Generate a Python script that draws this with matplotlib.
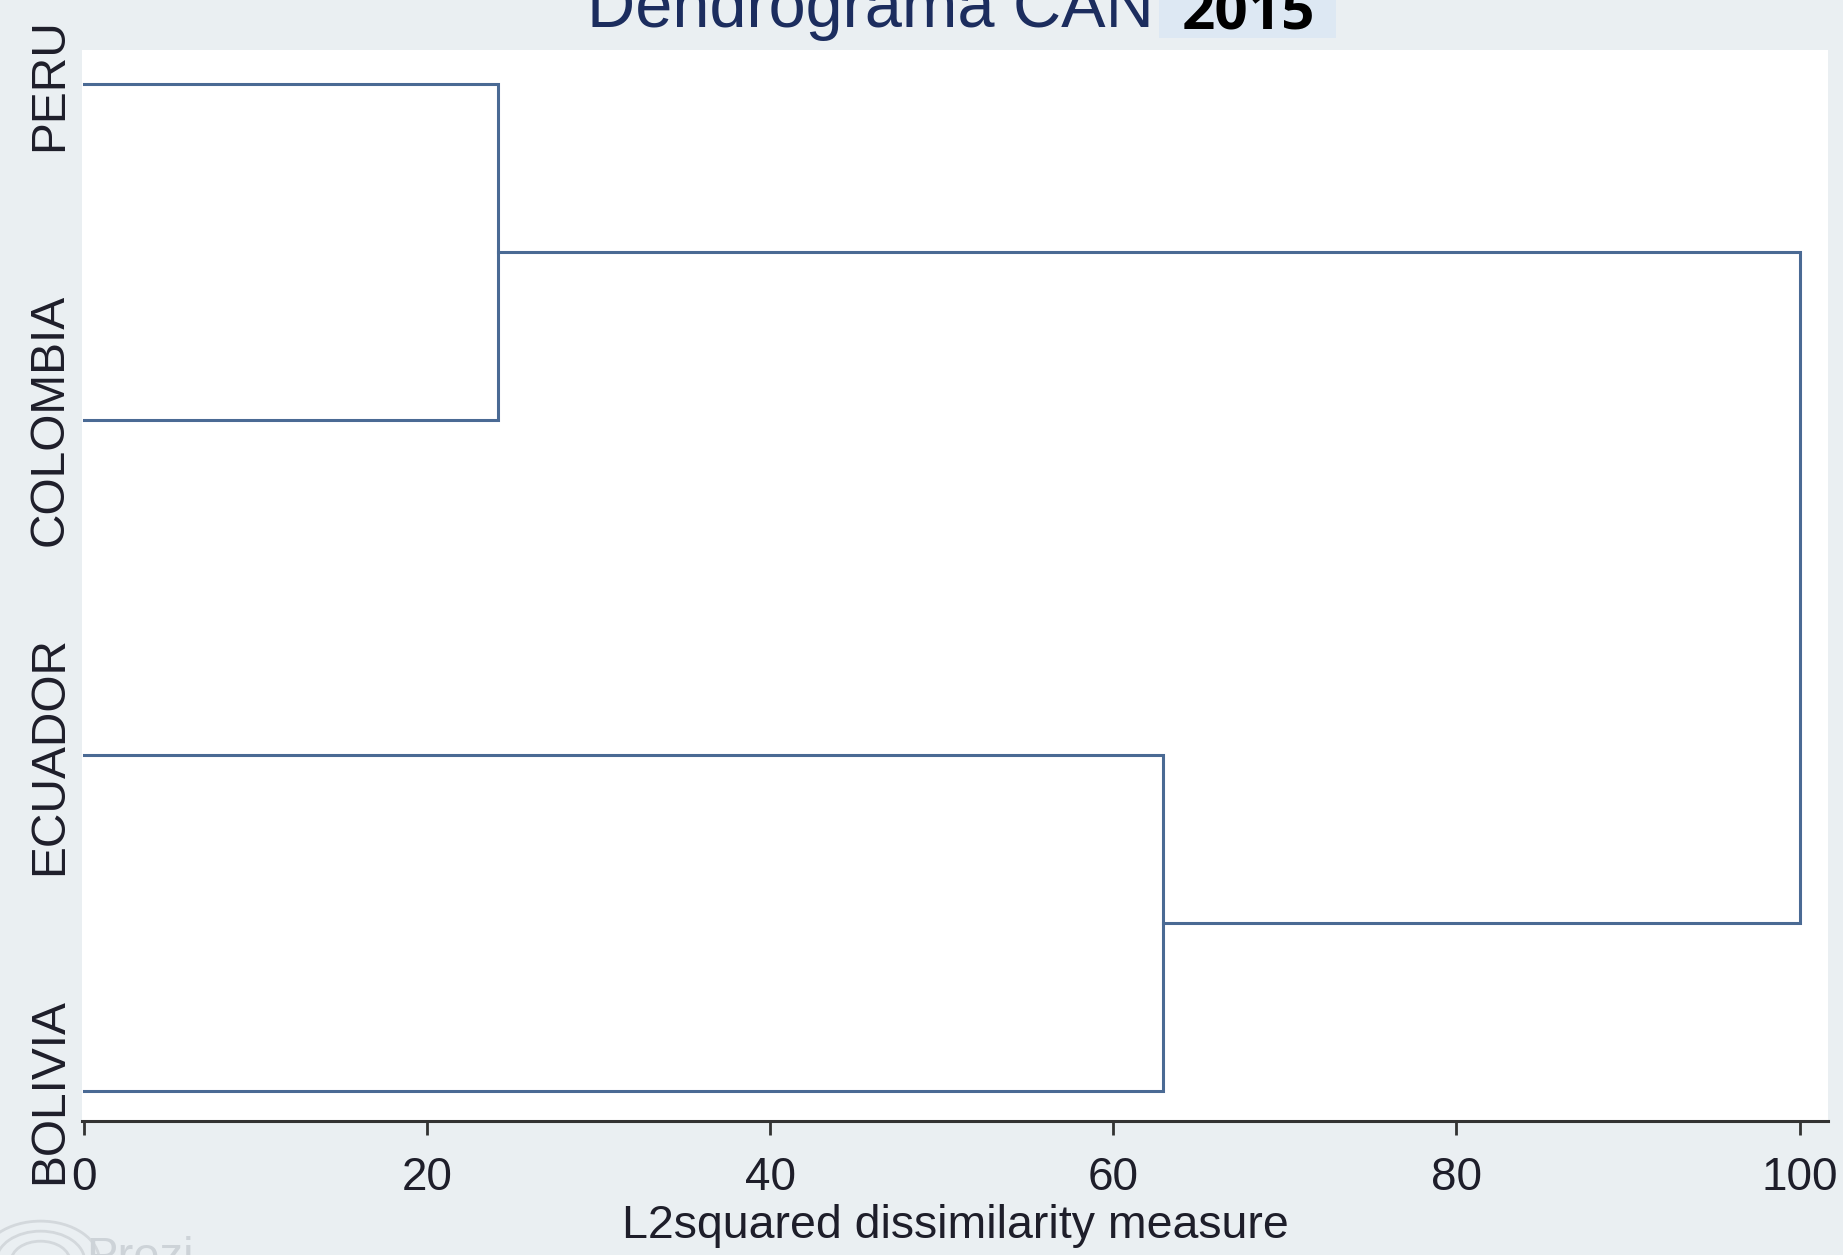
import matplotlib
matplotlib.use("Agg")
import matplotlib.pyplot as plt
from matplotlib.patches import Rectangle, Circle

plt.rcParams['font.family'] = ['Liberation Sans', 'DejaVu Sans']

# leaves from bottom to top
leaves = ["BOLIVIA", "ECUADOR", "COLOMBIA", "PERU"]
# merges: (left cluster, right cluster, dissimilarity)
merges = [("PERU", "COLOMBIA", 24.1),
          ("ECUADOR", "BOLIVIA", 62.9),
          ("PERU+COLOMBIA", "ECUADOR+BOLIVIA", 100.0)]
x_ticks = [0, 20, 40, 60, 80, 100]

bg = "#eaeff2"
line_color = "#4a6a94"
text_color = "#1e1e2a"

fig = plt.figure(figsize=(18.43, 12.55), dpi=100, facecolor=bg)
ax = fig.add_axes([0.0445, 0.1068, 0.9474, 0.8534])
ax.set_facecolor("white")

# y position and height of every cluster
pos = {name: i for i, name in enumerate(leaves)}
height = {name: 0.0 for name in leaves}
for a, b, h in merges:
    ax.plot([height[a], h, h, height[b]], [pos[a], pos[a], pos[b], pos[b]],
            color=line_color, linewidth=2.2, solid_joinstyle="miter")
    new = a + "+" + b
    pos[new] = (pos[a] + pos[b]) / 2
    height[new] = h

ax.set_xlim(-0.12, 101.66)
ax.set_ylim(-0.09, 3.103)
ax.set_xticks(x_ticks)
ax.set_xticklabels([str(t) for t in x_ticks], fontsize=33, color=text_color)
ax.set_yticks(range(len(leaves)))
ax.set_yticklabels(leaves, rotation=90, fontsize=34.5, color=text_color, va="center")
ax.tick_params(axis="y", length=0, pad=7)
ax.tick_params(axis="x", length=10, width=2, color="#333333", pad=15)

for side in ["top", "right", "left"]:
    ax.spines[side].set_visible(False)
ax.spines["bottom"].set_color("#333333")
ax.spines["bottom"].set_linewidth(2.2)

ax.set_xlabel("L2squared dissimilarity measure", fontsize=33.5, color=text_color, labelpad=3)

# title, partly cut by the top edge
fig.text(0.472, 0.9785, "Dendrograma CAN", fontsize=48, color="#1c2d5e",
         ha="center", va="baseline")
fig.patches.append(Rectangle((1159 / 1843, 1 - 38 / 1255), 177 / 1843, 38 / 1255,
                             transform=fig.transFigure, facecolor="#dde8f3",
                             edgecolor="none", zorder=1))
fig.text(1248 / 1843, 1 - 30 / 1255, "2015", fontsize=42, fontweight="bold",
         family="Open Sans", color="black", ha="center", va="baseline", zorder=2)

# faint watermark bottom-left
for r in [0.032, 0.024, 0.016]:
    fig.patches.append(Circle((0.022, -0.005), r, transform=fig.transFigure,
                              facecolor="none", edgecolor="#d3d8dc", linewidth=2))
fig.text(0.047, -0.012, "Prezi", fontsize=34, color="#cdd3d8", va="baseline")

fig.savefig("out.png", dpi=100, facecolor=bg)
